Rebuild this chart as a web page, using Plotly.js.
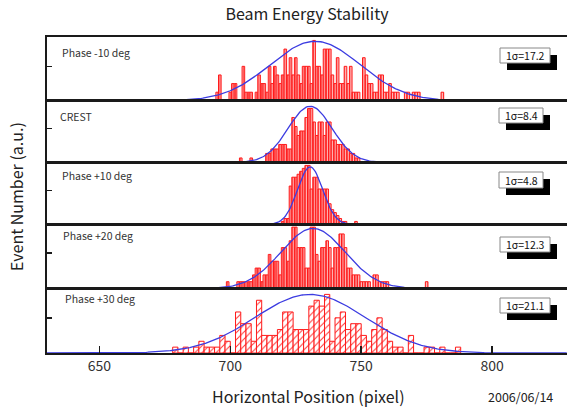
<!DOCTYPE html>
<html><head><meta charset="utf-8">
<script src="https://cdn.plot.ly/plotly-3.0.1.min.js"></script>
<style>html,body{margin:0;padding:0;background:#fff;}#chart{width:567px;height:410px;}</style>
</head><body><div id="chart"></div>
<script>
// ---------- data ----------
const panelLabels = ["Phase -10 deg", "CREST", "Phase +10 deg", "Phase +20 deg", "Phase +30 deg"];
const sigmaLabels = ["1σ=17.2", "1σ=8.4", "1σ=4.8", "1σ=12.3", "1σ=21.1"];
const fitSigma = [17.2, 8.4, 4.8, 12.3, 21.1];
const fitMean  = [732.4, 730.5, 730.5, 731.6, 730.5];
const fitAmp   = [6.9, 12.5, 19.5, 8.8, 10.0];
const binWidth = [1, 1, 1, 1, 2];
const binStart = [694, 704, 720, 699, 679];

const countsM10 = [
  0,1,3,0,0,0,1,2,2,0,
  0,4,1,1,1,0,1,3,2,2,
  1,4,2,4,3,2,3,6,3,5,
  3,5,3,2,4,4,4,2,7,4,
  4,3,6,6,6,3,2,5,2,2,
  4,2,4,1,1,1,0,5,3,2,
  2,1,1,3,3,1,1,2,1,1,
  1,0,0,1,1,0,1,1,1,0,
  0,0,0,0,0,0,0,1];
const countsCrest = [
  1,0,0,0,1,0,0,0,0,0,
  2,2,3,3,3,4,4,4,3,3,
  10,8,6,7,7,10,12,12,9,6,
  9,9,6,9,9,5,5,4,4,4,
  3,3,2,2,1,1];
const countsP10 = [
  1,2,2,13,16,16,17,18,19,20,
  20,12,16,16,12,12,12,12,7,5,
  4,3,2,1,1,0,0,0,1];
const countsP20 = [
  1,0,0,0,1,1,1,1,1,1,
  2,3,3,1,2,2,5,4,4,4,
  2,6,6,4,7,9,9,6,6,6,
  3,3,9,9,5,4,6,6,7,6,
  3,6,6,8,8,6,3,3,2,2,
  2,1,1,1,1,0,2,2,1,1,
  1,1,0,0,0,0,0,0,0,0,
  0,0,0,0,0,0,1];
const countsP30 = [
  1,0,1,0,1,2,1,1,1,3,
  2,0,7,5,5,2,9,3,3,3,
  4,7,7,4,4,4,8,9,8,10,
  2,6,7,4,5,5,3,2,4,6,
  4,2,1,1,0,3,0,0,1,1,
  0,1,0,0,1];
const allCounts = [countsM10, countsCrest, countsP10, countsP20, countsP30];

const yRangeMax = [7.4, 13.7, 21, 9.4, 11];
const yTick = [4, 7.5, 11.5, 5.2, 6];
const xTicks = [650, 700, 750, 800];
const xRange = [630, 828.6];

// ---------- layout geometry ----------
const W = 567, H = 410, ML = 47, MR = 0, MT = 37, MB = 57;
const PW = W - ML - MR, PH = H - MT - MB;
const px = v => (v - ML) / PW;
const py = v => (H - MB - v) / PH;
const domains = [[0.798, 1], [0.603, 0.798], [0.407, 0.603], [0.204, 0.407], [0, 0.204]];
const boxes = [[500, 48, 550, 63], [499, 108, 543, 123], [499, 172, 543, 188], [500, 237, 550, 252], [500, 298, 550, 313]];
const labelPos = [[60, 52], [58, 116.7], [60, 175.7], [60.7, 235.7], [63.3, 298.3]];

const FONT = '"Noto Sans CJK JP", "Noto Sans", sans-serif';
const traces = [];
const layout = {
  width: W, height: H,
  margin: {l: ML, r: MR, t: MT, b: MB, pad: 0},
  paper_bgcolor: '#fff', plot_bgcolor: '#fff',
  showlegend: false, hovermode: false, bargap: 0,
  font: {family: FONT, color: '#222'},
  title: {text: 'Beam Energy Stability', x: px(307), xref: 'paper', xanchor: 'center',
          y: 1 - 14.5 / H, yanchor: 'middle', font: {size: 16, color: '#222', family: FONT}},
  shapes: [], annotations: []
};

for (let i = 0; i < 5; i++) {
  const n = i + 1;
  const xa = 'x' + (n === 1 ? '' : n), ya = 'y' + (n === 1 ? '' : n);
  const counts = allCounts[i];
  const centers = counts.map((_, k) => binStart[i] + k * binWidth[i] + (binWidth[i] > 1 ? 0 : 0));
  const last = i === 4;
  traces.push({
    type: 'bar', x: centers, y: counts, width: binWidth[i], xaxis: xa, yaxis: ya,
    marker: {
      color: last ? '#ffffff' : '#ffb0b0',
      line: {color: '#ff1a1a', width: 1},
      pattern: last
        ? {shape: '/', fgcolor: '#ff3030', bgcolor: '#ffffff', size: 5, solidity: 0.2}
        : {shape: '|', fgcolor: '#ff3030', bgcolor: '#ffb8b8', size: 2.6, solidity: 0.3}
    }
  });
  // Gaussian fit curve defined by the fitted parameters shown on the chart
  const gx = [], gy = [];
  for (let v = xRange[0]; v <= xRange[1]; v += 0.5) {
    gx.push(v);
    gy.push(fitAmp[i] * Math.exp(-0.5 * Math.pow((v - fitMean[i]) / fitSigma[i], 2)));
  }
  traces.push({type: 'scatter', mode: 'lines', x: gx, y: gy, xaxis: xa, yaxis: ya,
    line: {color: 'rgb(60,60,225)', width: 1.3}, cliponaxis: true});

  layout['xaxis' + (n === 1 ? '' : n)] = {
    range: xRange, anchor: ya, matches: n === 1 ? undefined : 'x',
    showline: true, mirror: true, linecolor: '#1a1a1a', linewidth: 1.6,
    showgrid: false, zeroline: false, fixedrange: true,
    ticks: last ? 'inside' : '', ticklen: 7, tickwidth: 1.5, tickcolor: '#1a1a1a',
    tickvals: last ? xTicks : [], showticklabels: last,
    tickfont: {size: 14, color: '#333', family: FONT}
  };
  layout['yaxis' + (n === 1 ? '' : n)] = {
    domain: domains[i], anchor: xa, range: [0, yRangeMax[i]],
    showline: true, mirror: false, linecolor: '#1a1a1a', linewidth: 1.6,
    showgrid: false, zeroline: false, fixedrange: true,
    ticks: 'inside', ticklen: 5, tickwidth: 1.5, tickcolor: '#1a1a1a',
    tickvals: [yTick[i]], showticklabels: false
  };

  const b = boxes[i];
  layout.shapes.push({type: 'rect', xref: 'paper', yref: 'paper',
    x0: px(b[0] + 7), x1: px(b[2] + 7), y0: py(b[1] + 7), y1: py(b[3] + 7),
    fillcolor: '#000', line: {width: 0}});
  layout.shapes.push({type: 'rect', xref: 'paper', yref: 'paper',
    x0: px(b[0]), x1: px(b[2]), y0: py(b[1]), y1: py(b[3]),
    fillcolor: '#fff', line: {color: '#888', width: 1}});
  layout.annotations.push({xref: 'paper', yref: 'paper', x: px((b[0] + b[2]) / 2), y: py((b[1] + b[3]) / 2),
    text: sigmaLabels[i], showarrow: false, xanchor: 'center', yanchor: 'middle',
    font: {size: 10.5, color: '#111', family: FONT}});
  layout.annotations.push({xref: 'paper', yref: 'paper', x: px(labelPos[i][0]), y: py(labelPos[i][1]),
    text: panelLabels[i], showarrow: false, xanchor: 'left', yanchor: 'middle',
    font: {size: 10.5, color: '#333', family: FONT}});
}

layout.annotations.push({xref: 'paper', yref: 'paper', x: px(308), y: py(396),
  text: 'Horizontal Position (pixel)', showarrow: false, xanchor: 'center', yanchor: 'middle',
  font: {size: 16, color: '#222', family: FONT}});
layout.annotations.push({xref: 'paper', yref: 'paper', x: px(16), y: py(197),
  text: 'Event Number (a.u.)', showarrow: false, textangle: -90, xanchor: 'center', yanchor: 'middle',
  font: {size: 16, color: '#222', family: FONT}});
layout.annotations.push({xref: 'paper', yref: 'paper', x: px(520), y: py(396),
  text: '2006/06/14', showarrow: false, xanchor: 'center', yanchor: 'middle',
  font: {size: 12.5, color: '#222', family: FONT}});

Plotly.newPlot('chart', traces, layout, {staticPlot: true, displayModeBar: false});
</script></body></html>
